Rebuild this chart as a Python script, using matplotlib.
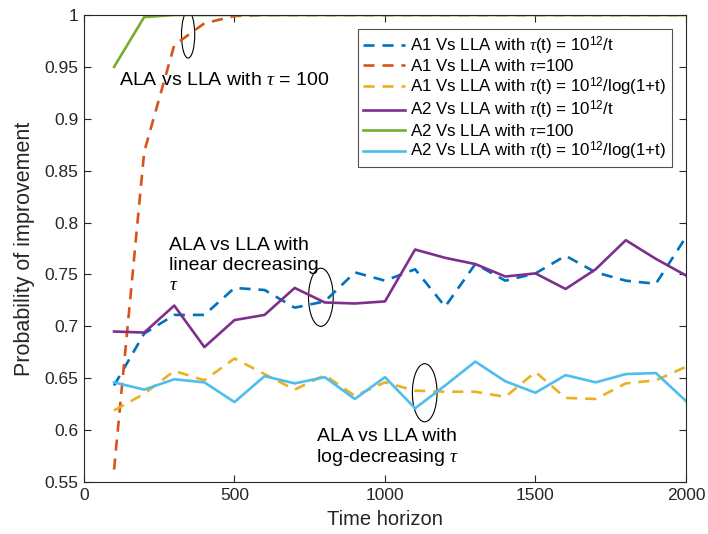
import matplotlib
matplotlib.use("Agg")
import matplotlib.pyplot as plt
from matplotlib.patches import Ellipse

plt.rcParams['font.family'] = ['Liberation Sans', 'DejaVu Sans']
plt.rcParams['mathtext.fontset'] = 'custom'
plt.rcParams['mathtext.rm'] = 'Liberation Sans'
plt.rcParams['mathtext.it'] = 'Liberation Serif:italic'

# Time horizons
t = [100, 200, 300, 400, 500, 600, 700, 800, 900, 1000,
     1100, 1200, 1300, 1400, 1500, 1600, 1700, 1800, 1900, 2000]

# A1 vs LLA
a1_linear = [0.643, 0.693, 0.711, 0.711, 0.737, 0.735, 0.718, 0.724, 0.752, 0.744,
             0.755, 0.719, 0.760, 0.744, 0.751, 0.768, 0.752, 0.744, 0.741, 0.786]
a1_const = [0.562, 0.868, 0.971, 0.992, 0.999, 1.0, 1.0, 1.0, 1.0, 1.0,
            1.0, 1.0, 1.0, 1.0, 1.0, 1.0, 1.0, 1.0, 1.0, 1.0]
a1_log = [0.619, 0.635, 0.657, 0.648, 0.669, 0.654, 0.639, 0.653, 0.633, 0.646,
          0.638, 0.637, 0.637, 0.632, 0.656, 0.631, 0.630, 0.645, 0.648, 0.661]

# A2 vs LLA
a2_linear = [0.695, 0.694, 0.720, 0.680, 0.706, 0.711, 0.737, 0.723, 0.722, 0.724,
             0.774, 0.766, 0.760, 0.748, 0.751, 0.736, 0.755, 0.783, 0.765, 0.749]
a2_const = [0.950, 0.998, 1.0, 1.0, 1.0, 1.0, 1.0, 1.0, 1.0, 1.0,
            1.0, 1.0, 1.0, 1.0, 1.0, 1.0, 1.0, 1.0, 1.0, 1.0]
a2_log = [0.646, 0.639, 0.649, 0.646, 0.627, 0.652, 0.645, 0.651, 0.630, 0.651,
          0.621, 0.643, 0.666, 0.647, 0.636, 0.653, 0.646, 0.654, 0.655, 0.628]

labels = [
    r'A1 Vs LLA with $\tau$(t) = 10$^{12}$/t',
    r'A1 Vs LLA with $\tau$=100',
    r'A1 Vs LLA with $\tau$(t) = 10$^{12}$/log(1+t)',
    r'A2 Vs LLA with $\tau$(t) = 10$^{12}$/t',
    r'A2 Vs LLA with $\tau$=100',
    r'A2 Vs LLA with $\tau$(t) = 10$^{12}$/log(1+t)',
]

colors = ['#0072BD', '#D95319', '#EDB120', '#7E2F8E', '#77AC30', '#4DBEEE']
series = [a1_linear, a1_const, a1_log, a2_linear, a2_const, a2_log]

fig = plt.figure(figsize=(7.08, 5.34), dpi=100)
ax = fig.add_axes([0.1186, 0.0974, 0.8503, 0.8745])

lw = 1.9
for i, (ys, c, lab) in enumerate(zip(series, colors, labels)):
    if i < 3:
        ax.plot(t, ys, color=c, lw=lw, linestyle=(0, (4.2, 3.0)), label=lab)
    else:
        ax.plot(t, ys, color=c, lw=lw, linestyle='-', label=lab)

ax.set_xlim(0, 2000)
ax.set_ylim(0.55, 1.0)
ax.set_xticks([0, 500, 1000, 1500, 2000])
ax.set_yticks([0.55, 0.6, 0.65, 0.7, 0.75, 0.8, 0.85, 0.9, 0.95, 1.0])
ax.set_yticklabels(['0.55', '0.6', '0.65', '0.7', '0.75', '0.8', '0.85', '0.9', '0.95', '1'])

axcol = '#262626'
for sp in ax.spines.values():
    sp.set_color(axcol)
    sp.set_linewidth(0.8)
ax.tick_params(direction='in', length=5, width=0.8, colors=axcol,
               top=True, right=True, labelsize=12.5, pad=4)
ax.set_xlabel('Time horizon', fontsize=14.5, color=axcol)
ax.set_ylabel('Probability of improvement', fontsize=15.5, color=axcol)
ax.xaxis.set_label_coords(0.5, -0.06)
ax.yaxis.set_label_coords(-0.082, 0.5)

leg = ax.legend(loc='upper right', fontsize=12.2, frameon=True, fancybox=False,
                handlelength=2.5, handletextpad=0.3, labelspacing=0.08,
                borderpad=0.3, borderaxespad=0.85)
leg.get_frame().set_edgecolor(axcol)
leg.get_frame().set_linewidth(0.8)

# Annotations
ax.add_patch(Ellipse((346, 0.981), 44, 0.045, fill=False, ec='black', lw=0.8))
ax.text(117, 0.937, r'ALA vs LLA with $\tau$ = 100', fontsize=14,
        va='center', ha='left', color='black')

ax.add_patch(Ellipse((787, 0.728), 82, 0.056, fill=False, ec='black', lw=0.8))
ax.text(283, 0.786, 'ALA vs LLA with\nlinear decreasing\n' + r'$\tau$', fontsize=14,
        va='top', ha='left', color='black', linespacing=1.22)

ax.add_patch(Ellipse((1132, 0.636), 82, 0.056, fill=False, ec='black', lw=0.8))
ax.text(1008, 0.5825, 'ALA vs LLA with\nlog-decreasing ' + r'$\tau$', fontsize=14,
        va='center', ha='center', color='black', linespacing=1.12)

fig.savefig('out.png', dpi=100)
